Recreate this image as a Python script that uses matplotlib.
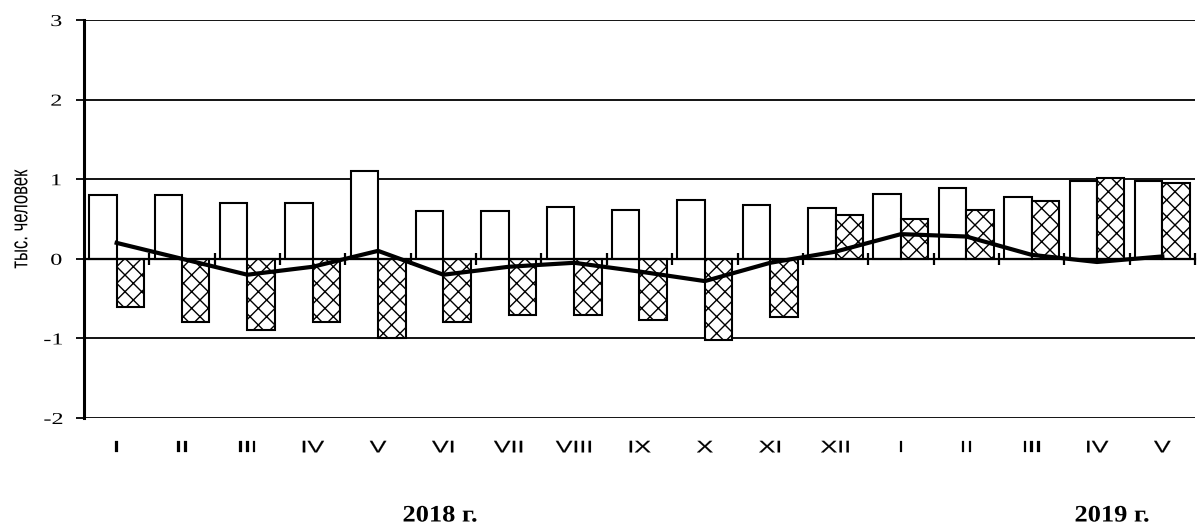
import matplotlib
matplotlib.use("Agg")
import matplotlib.pyplot as plt
import matplotlib.transforms as mtransforms
from matplotlib.patheffects import AbstractPathEffect
import numpy as np

months = ['I', 'II', 'III', 'IV', 'V', 'VI', 'VII', 'VIII', 'IX', 'X', 'XI', 'XII',
          'I', 'II', 'III', 'IV', 'V']
white_vals = [0.80, 0.80, 0.70, 0.70, 1.10, 0.60, 0.60, 0.65, 0.61, 0.74, 0.68, 0.64,
              0.81, 0.89, 0.78, 0.98, 0.98]
hatch_vals = [-0.60, -0.80, -0.90, -0.80, -1.00, -0.80, -0.70, -0.70, -0.77, -1.02, -0.73, 0.55,
              0.50, 0.61, 0.73, 1.02, 0.95]
net_vals = [0.20, 0.00, -0.20, -0.10, 0.10, -0.20, -0.10, -0.05, -0.16, -0.28, -0.05, 0.09,
            0.31, 0.28, 0.05, -0.04, 0.03]
year_labels = ['2018 г.', '2019 г.']
y_ticks = [-2, -1, 0, 1, 2, 3]


class StretchX(AbstractPathEffect):
    """Scale the rendered glyph path horizontally about its own centre,
    optionally adding a thin outline to thicken the strokes."""
    def __init__(self, sx, lw=0.0):
        super().__init__()
        self.sx = sx
        self.lw = lw

    def draw_path(self, renderer, gc, tpath, affine, rgbFace=None):
        bb = tpath.get_extents(affine)
        cx = 0.5 * (bb.x0 + bb.x1)
        aff = affine + mtransforms.Affine2D().translate(-cx, 0).scale(self.sx, 1).translate(cx, 0)
        gc0 = renderer.new_gc()
        gc0.copy_properties(gc)
        if self.lw > 0 and rgbFace is not None:
            gc0.set_linewidth(self.lw)
            gc0.set_foreground(rgbFace)
        renderer.draw_path(gc0, tpath, aff, rgbFace)
        gc0.restore()


plt.rcParams['hatch.linewidth'] = 1.0

fig = plt.figure(figsize=(11.98, 5.31), dpi=100)
ax = fig.add_axes([0.0701, 0.2128, 0.9274, 0.7495])

n = len(months)
centers = np.arange(n) + 0.5
w = 0.42

ax.bar(centers, white_vals, width=-w, align='edge', facecolor='white',
       edgecolor='black', linewidth=1.5, zorder=3)
ax.bar(centers, hatch_vals, width=w, align='edge', facecolor='white',
       edgecolor='black', linewidth=1.5, hatch='xx', zorder=3)
ax.plot(centers, net_vals, color='black', linewidth=3, zorder=5)

ax.set_xlim(0, n)
ax.set_ylim(-2, 3)
ax.set_yticks(y_ticks)
ylabels = ax.set_yticklabels([str(t) for t in y_ticks], family='Liberation Serif', fontsize=12)
for lbl in ylabels:
    lbl.set_path_effects([StretchX(1.45)])
ax.yaxis.grid(True, color='black', linewidth=1.3, zorder=1)
ax.set_axisbelow(True)
ax.tick_params(axis='y', direction='out', length=6, width=1.3, pad=11)

ax.spines['top'].set_visible(False)
ax.spines['right'].set_visible(False)
ax.spines['left'].set_linewidth(2.2)
ax.spines['bottom'].set_position(('data', 0))
ax.spines['bottom'].set_linewidth(1.6)
ax.spines['bottom'].set_zorder(4)

ax.set_xticks(np.arange(1, n + 1))
ax.set_xticklabels([])
ax.tick_params(axis='x', direction='inout', length=8, width=1.6)

trans = mtransforms.blended_transform_factory(ax.transData, ax.transAxes)
for c, m in zip(centers, months):
    ax.text(c, -0.075, m, transform=trans, ha='center', va='center',
            family='Liberation Sans', fontsize=12, path_effects=[StretchX(1.5, lw=0.15)])

ylab = ax.set_ylabel('тыс. человек', family='Liberation Sans', fontsize=12, labelpad=13)
ylab.set_path_effects([StretchX(1.45)])

for xpix, txt in zip([440, 1112], year_labels):
    fig.text(xpix / 1198, 1 - 516 / 531, txt, ha='center', va='center',
             family='Liberation Serif', fontweight='bold', fontsize=17,
             path_effects=[StretchX(1.12)])

fig.savefig('out.png', dpi=100)
